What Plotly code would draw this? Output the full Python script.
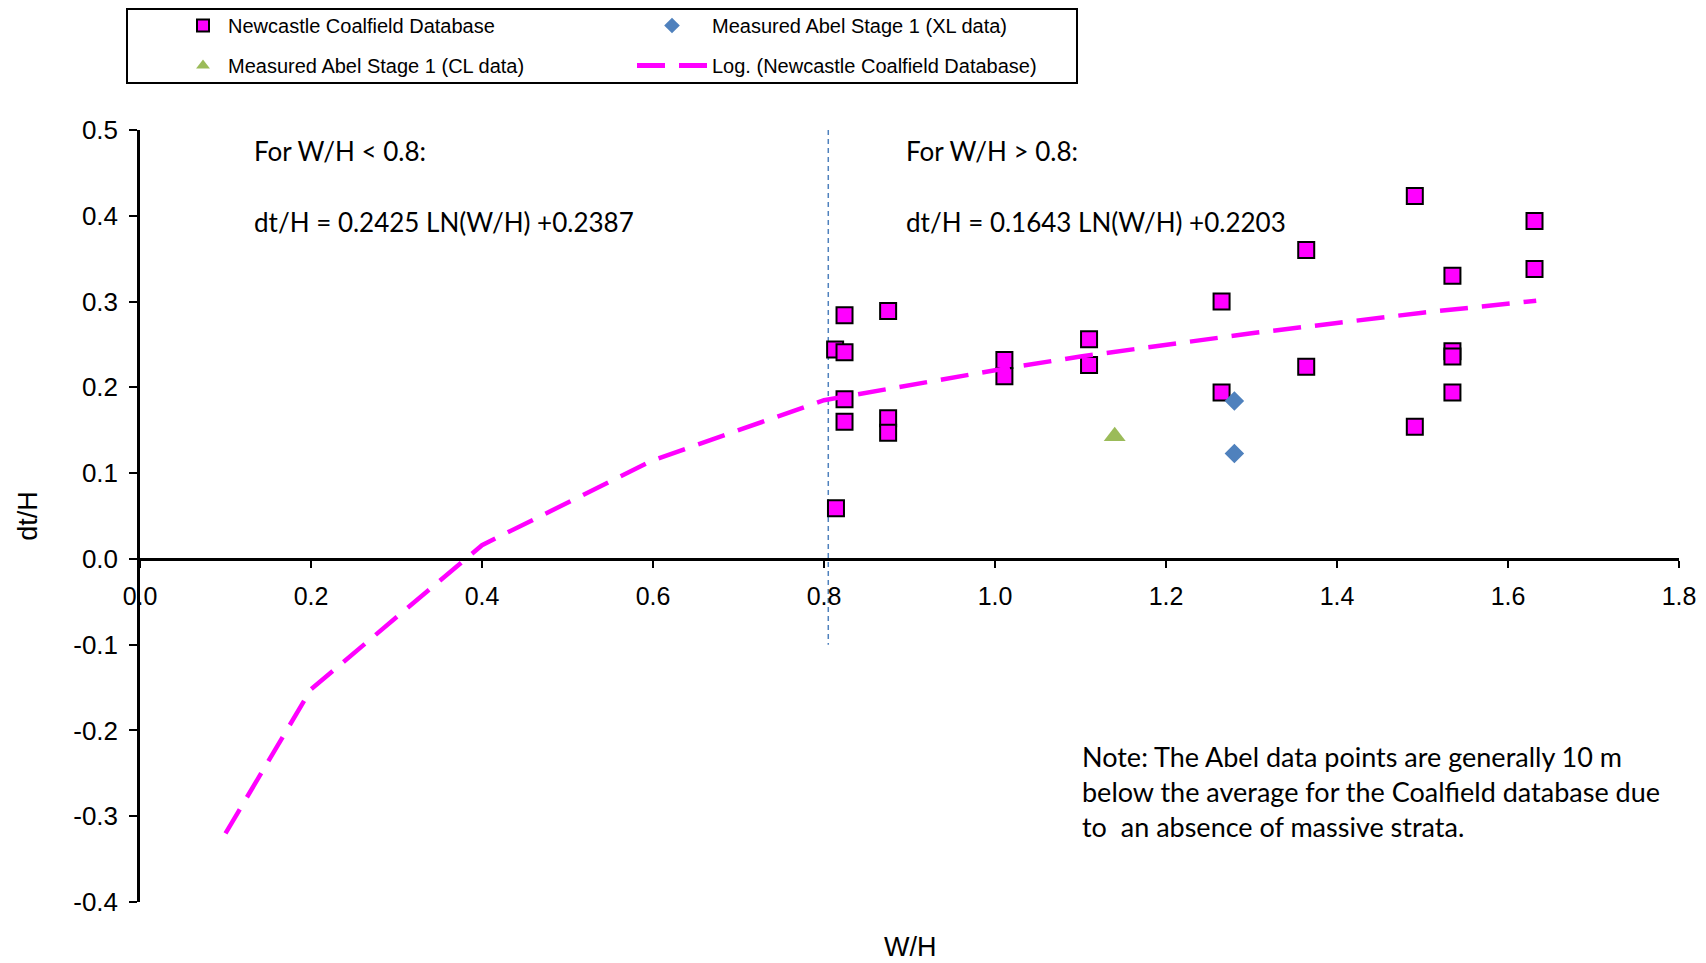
import plotly.graph_objects as go

# ---- data ----
ncd_x = [0.824, 0.875, 0.813, 0.824, 0.824, 0.824, 0.875, 0.875, 0.814,
         1.011, 1.011, 1.110, 1.110, 1.265, 1.265,
         1.491, 1.631, 1.364, 1.631, 1.535, 1.535, 1.535, 1.364, 1.535, 1.491]
ncd_y = [0.284, 0.289, 0.244, 0.241, 0.186, 0.160, 0.164, 0.147, 0.059,
         0.232, 0.213, 0.256, 0.226, 0.300, 0.194,
         0.423, 0.394, 0.360, 0.338, 0.330, 0.242, 0.236, 0.224, 0.194, 0.154]

xl_x = [1.280, 1.280]
xl_y = [0.184, 0.123]

cl_x = [1.140]
cl_y = [0.143]

trend_x = [0.10, 0.20, 0.40, 0.60, 0.80, 0.90, 1.00, 1.10, 1.20, 1.30, 1.40, 1.50, 1.633]
trend_y = [-0.320, -0.152, 0.016, 0.115, 0.185, 0.203, 0.220, 0.236, 0.250, 0.263, 0.275, 0.287, 0.301]

split_x = [0.805, 0.805]
split_y = [0.5, -0.1]

y_ticks = [-0.4, -0.3, -0.2, -0.1, 0.0, 0.1, 0.2, 0.3, 0.4, 0.5]
y_ticktext = ["-0.4", "-0.3", "-0.2", "-0.1", "0.0", "0.1", "0.2", "0.3", "0.4", "0.5"]
x_ticks = [0.0, 0.2, 0.4, 0.6, 0.8, 1.0, 1.2, 1.4, 1.6, 1.8]
x_ticktext = ["0.0", "0.2", "0.4", "0.6", "0.8", "1.0", "1.2", "1.4", "1.6", "1.8"]

MAGENTA = "#FF00FF"
BLUE = "#4F81BD"
GREEN = "#9BBB59"
ARIAL = "Liberation Sans, Arial, sans-serif"
CAL = "Lato, Carlito, Calibri, sans-serif"

fig = go.Figure()

fig.add_trace(go.Scatter(
    x=split_x, y=split_y, mode="lines", showlegend=False,
    line=dict(color=BLUE, width=1.5, dash="5px,4px"), hoverinfo="skip"))

fig.add_trace(go.Scatter(
    x=ncd_x, y=ncd_y, mode="markers", name="Newcastle Coalfield Database",
    marker=dict(symbol="square", size=16, color=MAGENTA, line=dict(color="black", width=2)),
    legend="legend", legendgroup="a", cliponaxis=False))

fig.add_trace(go.Scatter(
    x=xl_x, y=xl_y, mode="markers", name="Measured Abel Stage 1 (XL data)",
    marker=dict(symbol="diamond", size=15, color=BLUE),
    legend="legend2", legendgroup="b", cliponaxis=False))

fig.add_trace(go.Scatter(
    x=cl_x, y=cl_y, mode="markers", name="Measured Abel Stage 1 (CL data)",
    marker=dict(symbol="triangle-up", size=19, color=GREEN),
    legend="legend", legendgroup="c", cliponaxis=False))

fig.add_trace(go.Scatter(
    x=trend_x, y=trend_y, mode="lines", name="Log. (Newcastle Coalfield Database)",
    line=dict(color=MAGENTA, width=4.5, dash="28px,14px"),
    legend="legend2", legendgroup="d", cliponaxis=False))

W, H = 1706, 963
L, R, T, B = 140, 27, 130, 61
pw = W - L - R
ph = H - T - B

def px2x(p):
    return (p - L) / pw

def py2y(p):
    return 1 + (T - p) / ph

fig.update_layout(
    width=W, height=H,
    margin=dict(l=L, r=R, t=T, b=B, autoexpand=False),
    plot_bgcolor="white", paper_bgcolor="white",
    font=dict(family=ARIAL, color="black"),
    xaxis=dict(range=[0, 1.8], anchor="free", position=0.4/0.9, automargin=False,
               showline=True, linecolor="black", linewidth=2.5,
               ticks="outside", ticklen=7, tickwidth=1.5, tickcolor="black",
               tickvals=x_ticks, ticktext=x_ticktext, ticklabelstandoff=7,
               tickfont=dict(size=25, family=ARIAL),
               showgrid=False, zeroline=False),
    yaxis=dict(range=[-0.4, 0.5], automargin=False,
               showline=True, linecolor="black", linewidth=2.5,
               ticks="outside", ticklen=8, tickwidth=1.5, tickcolor="black",
               tickvals=y_ticks, ticktext=y_ticktext, ticklabelstandoff=6,
               tickfont=dict(size=26, family=ARIAL),
               showgrid=False, zeroline=False,
               title=dict(text="dt/H", font=dict(size=27, family=ARIAL), standoff=28)),
    legend=dict(x=px2x(178), y=py2y(6), xanchor="left", yanchor="top",
                bgcolor="rgba(0,0,0,0)", borderwidth=0, tracegroupgap=11,
                itemsizing="constant", itemwidth=40,
                font=dict(size=20, family=ARIAL)),
    legend2=dict(x=px2x(632), y=py2y(6), xanchor="left", yanchor="top",
                 bgcolor="rgba(0,0,0,0)", borderwidth=0, tracegroupgap=11,
                 itemsizing="constant", itemwidth=70,
                 font=dict(size=20, family=ARIAL)),
    shapes=[dict(type="rect", xref="paper", yref="paper",
                 x0=px2x(127), x1=px2x(1077), y0=py2y(83), y1=py2y(9),
                 line=dict(color="black", width=2), fillcolor="rgba(0,0,0,0)")],
    annotations=[
        dict(text="For W/H < 0.8:", x=0.131, y=0.475, xref="x", yref="y",
             xanchor="left", yanchor="middle", showarrow=False,
             font=dict(size=26, family=CAL)),
        dict(text="dt/H = 0.2425 LN(W/H) +0.2387", x=0.131, y=0.393, xref="x", yref="y",
             xanchor="left", yanchor="middle", showarrow=False,
             font=dict(size=26, family=CAL)),
        dict(text="For W/H > 0.8:", x=0.8936, y=0.475, xref="x", yref="y",
             xanchor="left", yanchor="middle", showarrow=False,
             font=dict(size=26, family=CAL)),
        dict(text="dt/H = 0.1643 LN(W/H) +0.2203", x=0.8936, y=0.393, xref="x", yref="y",
             xanchor="left", yanchor="middle", showarrow=False,
             font=dict(size=26, family=CAL)),
        dict(text="Note: The Abel data points are generally 10 m<br>below the average for the Coalfield database due<br>to  an absence of massive strata.",
             x=1.099, y=-0.209, xref="x", yref="y", xanchor="left", yanchor="top",
             align="left", showarrow=False, font=dict(size=27, family=CAL)),
        dict(text="W/H", x=0.5, y=py2y(947), xref="paper", yref="paper",
             xanchor="center", yanchor="middle", showarrow=False,
             font=dict(size=27, family=ARIAL)),
    ],
)

fig.write_html("out.html", config={"displayModeBar": False},
               post_script="document.body.style.margin='0';document.body.style.overflow='hidden';")
